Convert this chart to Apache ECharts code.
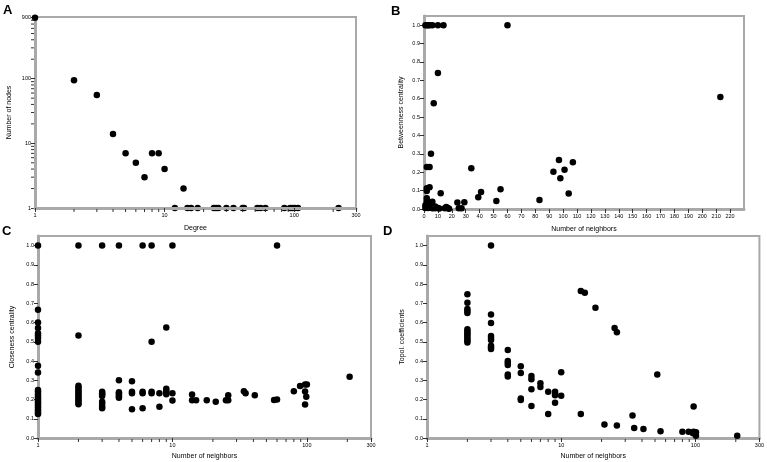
<!DOCTYPE html>
<html>
<head>
<meta charset="utf-8">
<script src="https://cdn.jsdelivr.net/npm/echarts@6/dist/echarts.min.js"></script>
<style>
  html, body { margin: 0; padding: 0; background: #fff; }
  #chart { width: 767px; height: 462px; }
</style>
</head>
<body>
<div id="chart"></div>
<script>
// A: degree distribution
const degreeA = [1, 2, 3, 4, 5, 6, 7, 8, 9, 10, 14,
  12, 15, 16, 18, 24, 25, 26, 30, 34, 40, 41, 52, 55, 60, 84, 93, 97, 101, 107, 220];
const nodesA = [880, 95, 56, 14, 7, 5, 3, 7, 7, 4, 2,
  1, 1, 1, 1, 1, 1, 1, 1, 1, 1, 1, 1, 1, 1, 1, 1, 1, 1, 1, 1];

// B: betweenness centrality vs number of neighbors
const neighborsB = [1, 2, 3, 4, 6, 10, 14, 60,
  10, 7, 213, 5, 2, 4, 34,
  2, 2, 4, 12, 2, 2, 6, 24, 29, 25, 27,
  39, 41, 52, 55, 83, 93, 97, 98, 101, 104, 107,
  1, 1, 2, 2, 3, 3, 3, 4, 5, 6, 7, 8, 8, 9, 10, 11, 15, 16, 17, 18];
const betweennessB = [1, 1, 1, 1, 1, 1, 1, 1,
  0.74, 0.575, 0.61, 0.30, 0.228, 0.228, 0.222,
  0.113, 0.098, 0.118, 0.086, 0.058, 0.042, 0.04, 0.036, 0.037, 0.004, 0.004,
  0.064, 0.092, 0.044, 0.107, 0.049, 0.202, 0.267, 0.167, 0.213, 0.084, 0.255,
  0.005, 0.02, 0.01, 0.025, 0.005, 0.015, 0.03, 0.008, 0.01, 0.004, 0.01, 0.013, 0.004, 0.007, 0.005, 0.003, 0.004, 0.011, 0.006, 0.002];

// C: closeness centrality vs number of neighbors
const neighborsC = [
  1, 1, 1, 1, 1, 1, 1, 1, 1, 1, 1, 1, 1, 1, 1, 1, 1, 1, 1, 1, 1, 1, 1, 1,
  2, 2, 2, 2, 2, 2, 2, 2, 2, 2, 2, 2, 2,
  3, 3, 3, 3, 3, 3, 3, 3, 3,
  4, 4, 4, 4, 4, 4, 4,
  5, 5, 5, 5,
  6, 6, 6, 6,
  7, 7, 7, 7,
  8, 8,
  9, 9, 9, 9, 9,
  10, 10, 10,
  14, 14, 15, 18, 21, 25, 26, 26, 34, 35, 41, 57, 60, 60,
  80, 89, 97, 100, 97, 97, 99, 208];
const closenessC = [
  1, 0.667, 0.6, 0.572, 0.545, 0.533, 0.52, 0.5, 0.376, 0.34, 0.25, 0.24, 0.23, 0.22, 0.21, 0.2, 0.19, 0.18, 0.17, 0.16, 0.15, 0.14, 0.13, 0.125,
  1, 0.533, 0.272, 0.262, 0.252, 0.242, 0.232, 0.222, 0.212, 0.202, 0.192, 0.182, 0.175,
  1, 0.24, 0.233, 0.226, 0.218, 0.188, 0.178, 0.164, 0.155,
  1, 0.3, 0.238, 0.231, 0.224, 0.216, 0.209,
  0.295, 0.24, 0.232, 0.15,
  1, 0.24, 0.232, 0.155,
  1, 0.5, 0.24, 0.232,
  0.233, 0.162,
  0.575, 0.256, 0.246, 0.235, 0.228,
  1, 0.232, 0.195,
  0.226, 0.196, 0.196, 0.196, 0.188, 0.196, 0.196, 0.222, 0.243, 0.233, 0.222, 0.198, 0.2, 1,
  0.243, 0.27, 0.278, 0.278, 0.242, 0.174, 0.214, 0.318];

// D: topological coefficients vs number of neighbors
const neighborsD = [
  2, 2, 2, 2, 2, 2, 2, 2, 2, 2, 2, 2, 2,
  3, 3, 3, 3, 3, 3, 3, 3, 3,
  4, 4, 4, 4, 4, 4,
  5, 5, 5, 5,
  6, 6, 6, 6,
  7, 7,
  8, 8,
  9, 9, 9, 9,
  10, 10,
  14, 14, 15, 18, 21, 25, 26, 26, 34, 35, 41, 52, 55,
  80, 89, 97, 97, 96, 101, 101, 205];
const topolD = [
  0.747, 0.703, 0.67, 0.66, 0.65, 0.565, 0.555, 0.545, 0.535, 0.525, 0.515, 0.505, 0.497,
  1, 0.642, 0.598, 0.53, 0.52, 0.51, 0.48, 0.47, 0.462,
  0.458, 0.4, 0.39, 0.38, 0.33, 0.32,
  0.373, 0.338, 0.205, 0.198,
  0.322, 0.306, 0.254, 0.166,
  0.285, 0.265,
  0.241, 0.125,
  0.24, 0.232, 0.222, 0.183,
  0.342, 0.219,
  0.764, 0.125, 0.755, 0.677, 0.07, 0.572, 0.55, 0.065, 0.117, 0.052, 0.047, 0.33, 0.035,
  0.033, 0.033, 0.164, 0.033, 0.025, 0.03, 0.012, 0.012];

const panelLetters = ['A', 'B', 'C', 'D'];

const zip = (xs, ys) => xs.map((x, i) => [x, ys[i]]);

// minor ticks of a log axis (2..9, 20..90, ...) up to max
function logMinors(max) {
  const out = [];
  for (let p = 1; p <= max; p *= 10) {
    for (let k = 2; k <= 9; k++) {
      if (k * p < max) out.push(k * p);
    }
  }
  return out;
}

const chart = echarts.init(document.getElementById('chart'));

const gray = '#a9a9a9';
const tickColor = '#333';
const labelStyle = { fontSize: 5.5, color: '#000', fontFamily: 'Liberation Sans, Arial', margin: 4 };
const nameStyle = { fontSize: 7, color: '#000', fontFamily: 'Liberation Sans, Arial' };

function xLog(gridIndex, name, max, z) {
  return {
    type: 'log', logBase: 10, gridIndex, min: 1, max, name,
    nameLocation: 'middle', nameGap: 15, nameTextStyle: nameStyle,
    z: z || 0,
    axisLine: { show: true, lineStyle: { color: gray, width: 3 } },
    axisTick: { show: true, length: 4, lineStyle: { color: tickColor } },
    axisLabel: labelStyle,
    splitLine: { show: false }
  };
}

function yRatio(gridIndex, name, nameGap) {
  return {
    type: 'value', gridIndex, min: 0, max: 1.05, interval: 0.1, name,
    nameLocation: 'middle', nameGap, nameTextStyle: nameStyle,
    axisLine: { show: true, lineStyle: { color: gray, width: 3 } },
    axisTick: { show: true, length: 4, lineStyle: { color: tickColor } },
    axisLabel: Object.assign({}, labelStyle, {
      showMaxLabel: false,
      formatter: v => v.toFixed(1)
    }),
    splitLine: { show: false }
  };
}

function scatter(idx, data) {
  return {
    type: 'scatter', xAxisIndex: idx, yAxisIndex: idx, data,
    symbol: 'circle', symbolSize: 6.5,
    itemStyle: { color: '#000', opacity: 1 }, z: 2
  };
}

// little outside tick marks at log minor positions
function minorX(idx, yMin, max) {
  return {
    type: 'custom', xAxisIndex: idx, yAxisIndex: idx, silent: true, clip: false, z: 5,
    data: logMinors(max).map(v => [v, yMin]),
    encode: { x: 0, y: 1 },
    renderItem: (params, api) => {
      const p = api.coord([api.value(0), yMin]);
      return { type: 'line', shape: { x1: p[0], y1: p[1] + 1, x2: p[0], y2: p[1] + 4 },
        style: { stroke: tickColor, lineWidth: 1 } };
    }
  };
}
function minorY(idx, xMin, max) {
  return {
    type: 'custom', xAxisIndex: idx, yAxisIndex: idx, silent: true, clip: false, z: 5,
    data: logMinors(max).map(v => [xMin, v]),
    encode: { x: 0, y: 1 },
    renderItem: (params, api) => {
      const p = api.coord([xMin, api.value(1)]);
      return { type: 'line', shape: { x1: p[0] - 1, y1: p[1], x2: p[0] - 4, y2: p[1] },
        style: { stroke: tickColor, lineWidth: 1 } };
    }
  };
}

const gridBase = { show: true, borderColor: gray, borderWidth: 2, containLabel: false };

const option = {
  animation: false,
  backgroundColor: '#fff',
  grid: [
    Object.assign({ left: 35, top: 17, width: 321, height: 191 }, gridBase),
    Object.assign({ left: 424, top: 16, width: 320, height: 193 }, gridBase),
    Object.assign({ left: 38, top: 236, width: 333, height: 202 }, gridBase),
    Object.assign({ left: 427, top: 236, width: 333, height: 202 }, gridBase)
  ],
  xAxis: [
    Object.assign(xLog(0, 'Degree', 300, 3), { nameGap: 17 }),
    {
      type: 'value', gridIndex: 1, min: 0, max: 230, interval: 10, name: 'Number of neighbors',
      nameLocation: 'middle', nameGap: 17, nameTextStyle: nameStyle,
      axisLine: { show: true, lineStyle: { color: gray, width: 3 } },
      axisTick: { show: true, length: 4, lineStyle: { color: tickColor } },
      axisLabel: Object.assign({}, labelStyle, { showMaxLabel: false }),
      splitLine: { show: false }
    },
    xLog(2, 'Number of neighbors', 300),
    xLog(3, 'Number of neighbors', 300)
  ],
  yAxis: [
    {
      type: 'log', logBase: 10, gridIndex: 0, min: 1, max: 900, name: 'Number of nodes',
      nameLocation: 'middle', nameGap: 22, nameTextStyle: nameStyle,
      axisLine: { show: true, lineStyle: { color: gray, width: 3 } },
      axisTick: { show: true, length: 4, lineStyle: { color: tickColor } },
      axisLabel: labelStyle,
      splitLine: { show: false }
    },
    yRatio(1, 'Betweenness centrality', 19),
    yRatio(2, 'Closeness centrality', 22),
    yRatio(3, 'Topol. coefficients', 21)
  ],
  graphic: [
    { type: 'text', left: 3, top: 4, style: { text: panelLetters[0], font: 'bold 13px Liberation Sans, Arial', fill: '#000' } },
    { type: 'text', left: 391, top: 5, style: { text: panelLetters[1], font: 'bold 13px Liberation Sans, Arial', fill: '#000' } },
    { type: 'text', left: 2, top: 225, style: { text: panelLetters[2], font: 'bold 13px Liberation Sans, Arial', fill: '#000' } },
    { type: 'text', left: 383, top: 225, style: { text: panelLetters[3], font: 'bold 13px Liberation Sans, Arial', fill: '#000' } }
  ],
  series: [
    scatter(0, zip(degreeA, nodesA)),
    scatter(1, zip(neighborsB, betweennessB)),
    scatter(2, zip(neighborsC, closenessC)),
    scatter(3, zip(neighborsD, topolD)),
    minorX(0, 1, 300),
    minorY(0, 1, 900),
    minorX(2, 0, 300),
    minorX(3, 0, 300)
  ]
};

chart.setOption(option);
</script>
</body>
</html>
